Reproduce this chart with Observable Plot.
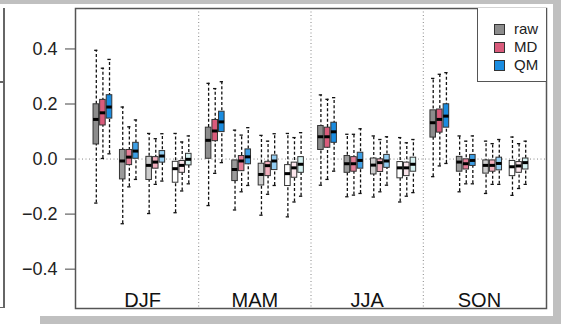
<!DOCTYPE html>
<html>
<head>
<meta charset="utf-8">
<script src="https://cdn.jsdelivr.net/npm/d3@7"></script>
<script src="https://cdn.jsdelivr.net/npm/@observablehq/plot@0.6"></script>
<style>
  html, body { margin: 0; padding: 0; background: #fff; }
  #wrap { position: relative; width: 561px; height: 324px; overflow: hidden; background: #fff;
          font-family: "Liberation Sans", Arial, Helvetica, sans-serif; }
  .band { position: absolute; background: #c0c0c0; }
  .line { position: absolute; background: #666; }
  #chart { position: absolute; left: 0; top: 0; }
  #legend { position: absolute; left: 477px; top: 8px; width: 68px; height: 73px;
            border-left: 1.5px solid #555; border-bottom: 1.5px solid #555; background: #fff; }
  .item { position: absolute; left: 0; height: 18px; font-size: 15px; color: #222; line-height: 18px; }
  .sw { position: absolute; left: 16px; top: 4px; width: 9px; height: 9px; border: 1px solid #333; }
  .lab { position: absolute; left: 36px; top: 0; }
</style>
</head>
<body>
<div id="wrap">
  <div class="band" style="left:0;top:0;width:561px;height:4px"></div>
  <div class="band" style="left:553px;top:0;width:8px;height:324px"></div>
  <div class="band" style="left:40px;top:316px;width:521px;height:8px"></div>
  <div class="line" style="left:3px;top:8px;width:1.5px;height:300px"></div>
  <div class="line" style="left:0;top:81px;width:4px;height:1.5px"></div>
  <div class="line" style="left:0;top:306.5px;width:4px;height:1.5px"></div>
  <div id="chart"></div>
  <div id="legend"></div>
</div>
<script>
// ---- data ----
const seasons = ["DJF", "MAM", "JJA", "SON"];
const methods = ["raw", "MD", "QM"];
const legendColors = ["#8c8c8c", "#d95b7b", "#1a8ce0"];
// fill shades for the 4 groups inside each season
const shadeRaw = ["#8c8c8c", "#9a9a9a", "#cdcdcd", "#ffffff"];
const shadeMD  = ["#d95b7b", "#e57d97", "#f1aebd", "#fbe6ec"];
const shadeQM  = ["#1a8ce0", "#3d9fe6", "#93cdf2", "#d6f3f3"];
const yTicks = [-0.4, -0.2, 0.0, 0.2, 0.4];

// order: season -> group (4) -> method (raw, MD, QM)
const lower = [
  -0.160, 0.002, 0.019,  -0.235, -0.101, -0.074,  -0.198, -0.092, -0.080,  -0.195, -0.116, -0.090,
  -0.169, -0.052, -0.013, -0.185, -0.119, -0.096,  -0.204, -0.128, -0.096,  -0.210, -0.156, -0.135,
  -0.095, -0.074, -0.044, -0.137, -0.131, -0.125,  -0.138, -0.119, -0.095,  -0.156, -0.135, -0.122,
  -0.064, -0.025, -0.016, -0.119, -0.090, -0.090,  -0.125, -0.092, -0.092,  -0.132, -0.107, -0.092
];
const q1 = [
  0.053, 0.122, 0.147,   -0.074, -0.022, 0.001,   -0.076, -0.035, -0.013,  -0.086, -0.050, -0.023,
  0.001, 0.065, 0.098,   -0.080, -0.044, -0.019,  -0.096, -0.062, -0.040,  -0.098, -0.068, -0.050,
  0.033, 0.041, 0.059,   -0.050, -0.046, -0.035,  -0.056, -0.047, -0.032,  -0.070, -0.062, -0.046,
  0.078, 0.096, 0.114,   -0.046, -0.038, -0.025,  -0.053, -0.046, -0.041,  -0.062, -0.050, -0.038
];
const median = [
  0.144, 0.168, 0.189,   -0.007, 0.007, 0.029,    -0.023, -0.011, 0.011,   -0.035, -0.023, -0.001,
  0.068, 0.102, 0.135,   -0.038, -0.007, 0.008,   -0.056, -0.024, -0.007,  -0.053, -0.032, -0.019,
  0.081, 0.081, 0.099,   -0.017, -0.017, -0.005,  -0.022, -0.013, -0.007,  -0.032, -0.032, -0.019,
  0.132, 0.144, 0.156,   -0.011, -0.017, -0.005,  -0.023, -0.023, -0.016,  -0.028, -0.025, -0.013
];
const q3 = [
  0.199, 0.215, 0.232,   0.033, 0.033, 0.059,     0.008, 0.007, 0.029,     -0.010, -0.007, 0.019,
  0.114, 0.142, 0.172,   -0.005, 0.011, 0.035,    -0.017, -0.010, 0.013,   -0.022, -0.013, 0.007,
  0.120, 0.114, 0.132,   0.011, 0.007, 0.023,     0.002, -0.001, 0.015,    -0.011, -0.013, 0.005,
  0.177, 0.180, 0.199,   0.008, -0.001, 0.015,    -0.005, -0.005, 0.005,   -0.007, -0.011, 0.002
];
const upper = [
  0.395, 0.330, 0.362,   0.189, 0.117, 0.142,     0.093, 0.074, 0.092,     0.093, 0.062, 0.084,
  0.275, 0.256, 0.281,   0.105, 0.087, 0.114,     0.086, 0.065, 0.092,     0.093, 0.078, 0.096,
  0.233, 0.217, 0.223,   0.090, 0.090, 0.110,     0.084, 0.071, 0.081,     0.078, 0.059, 0.071,
  0.293, 0.308, 0.314,   0.084, 0.065, 0.084,     0.065, 0.056, 0.071,     0.080, 0.056, 0.065
];

// ---- build table ----
const nGroups = 4, slotsPerGroup = 4, slotsPerSeason = nGroups * slotsPerGroup + 1;
const shades = [shadeRaw, shadeMD, shadeQM];
const rows = [];
seasons.forEach((s, si) => {
  for (let g = 0; g < nGroups; g++) {
    methods.forEach((m, mi) => {
      const i = si * nGroups * methods.length + g * methods.length + mi;
      rows.push({
        season: s, group: g, method: m,
        pos: si * slotsPerSeason + g * slotsPerGroup + mi,
        lo: lower[i], q1: q1[i], med: median[i], q3: q3[i], hi: upper[i],
        fill: shades[mi][g]
      });
    });
  }
});
const seasonCenters = seasons.map((s, si) => ({season: s, pos: si * slotsPerSeason + (nGroups * slotsPerGroup - 2) / 2}));
const dividers = seasons.slice(1).map((s, si) => (si + 1) * slotsPerSeason - 1.5);
const hw = 0.42, cw = 0.25;

const chart = Plot.plot({
  width: 561,
  height: 324,
  marginLeft: 75,
  marginRight: 15,
  marginTop: 8,
  marginBottom: 16,
  style: {fontFamily: "'Liberation Sans', Arial, Helvetica, sans-serif", background: "transparent"},
  x: {domain: [-3.15, 68.15], axis: null},
  y: {domain: [-0.543, 0.547], axis: null},
  color: {type: "identity"},
  marks: [
    Plot.ruleY([0], {stroke: "#888", strokeDasharray: "1,2.5", strokeWidth: 1}),
    Plot.ruleX(dividers, {stroke: "#888", strokeDasharray: "1,2.5", strokeWidth: 1}),
    Plot.ruleX(rows, {x: "pos", y1: "lo", y2: "hi", stroke: "#111", strokeWidth: 1.3, strokeDasharray: "3,2.2"}),
    Plot.ruleY(rows, {y: "lo", x1: d => d.pos - cw, x2: d => d.pos + cw, stroke: "#111", strokeWidth: 1.3}),
    Plot.ruleY(rows, {y: "hi", x1: d => d.pos - cw, x2: d => d.pos + cw, stroke: "#111", strokeWidth: 1.3}),
    Plot.rect(rows, {x1: d => d.pos - hw, x2: d => d.pos + hw, y1: "q1", y2: "q3", fill: "fill", stroke: "#333", strokeWidth: 1}),
    Plot.ruleY(rows, {y: "med", x1: d => d.pos - hw, x2: d => d.pos + hw, stroke: "#000", strokeWidth: 3}),
    Plot.text(seasonCenters, {x: "pos", text: "season", frameAnchor: "bottom", lineAnchor: "bottom", dy: -2, fontSize: 20, fill: "#111"}),
    Plot.axisY({ticks: yTicks, tickSize: 10, tickPadding: 8, tickFormat: d3.format(".1f"), fontSize: 18, label: null, stroke: "#444", fill: "#222"}),
    Plot.frame({stroke: "#555", strokeWidth: 1.5})
  ]
});
document.getElementById("chart").appendChild(chart);

// legend
const leg = document.getElementById("legend");
methods.forEach((m, i) => {
  const it = document.createElement("div");
  it.className = "item";
  it.style.top = (12 + i * 18) + "px";
  it.style.width = "68px";
  it.innerHTML = `<span class="sw" style="background:${legendColors[i]}"></span><span class="lab">${m}</span>`;
  leg.appendChild(it);
});
</script>
</body>
</html>
